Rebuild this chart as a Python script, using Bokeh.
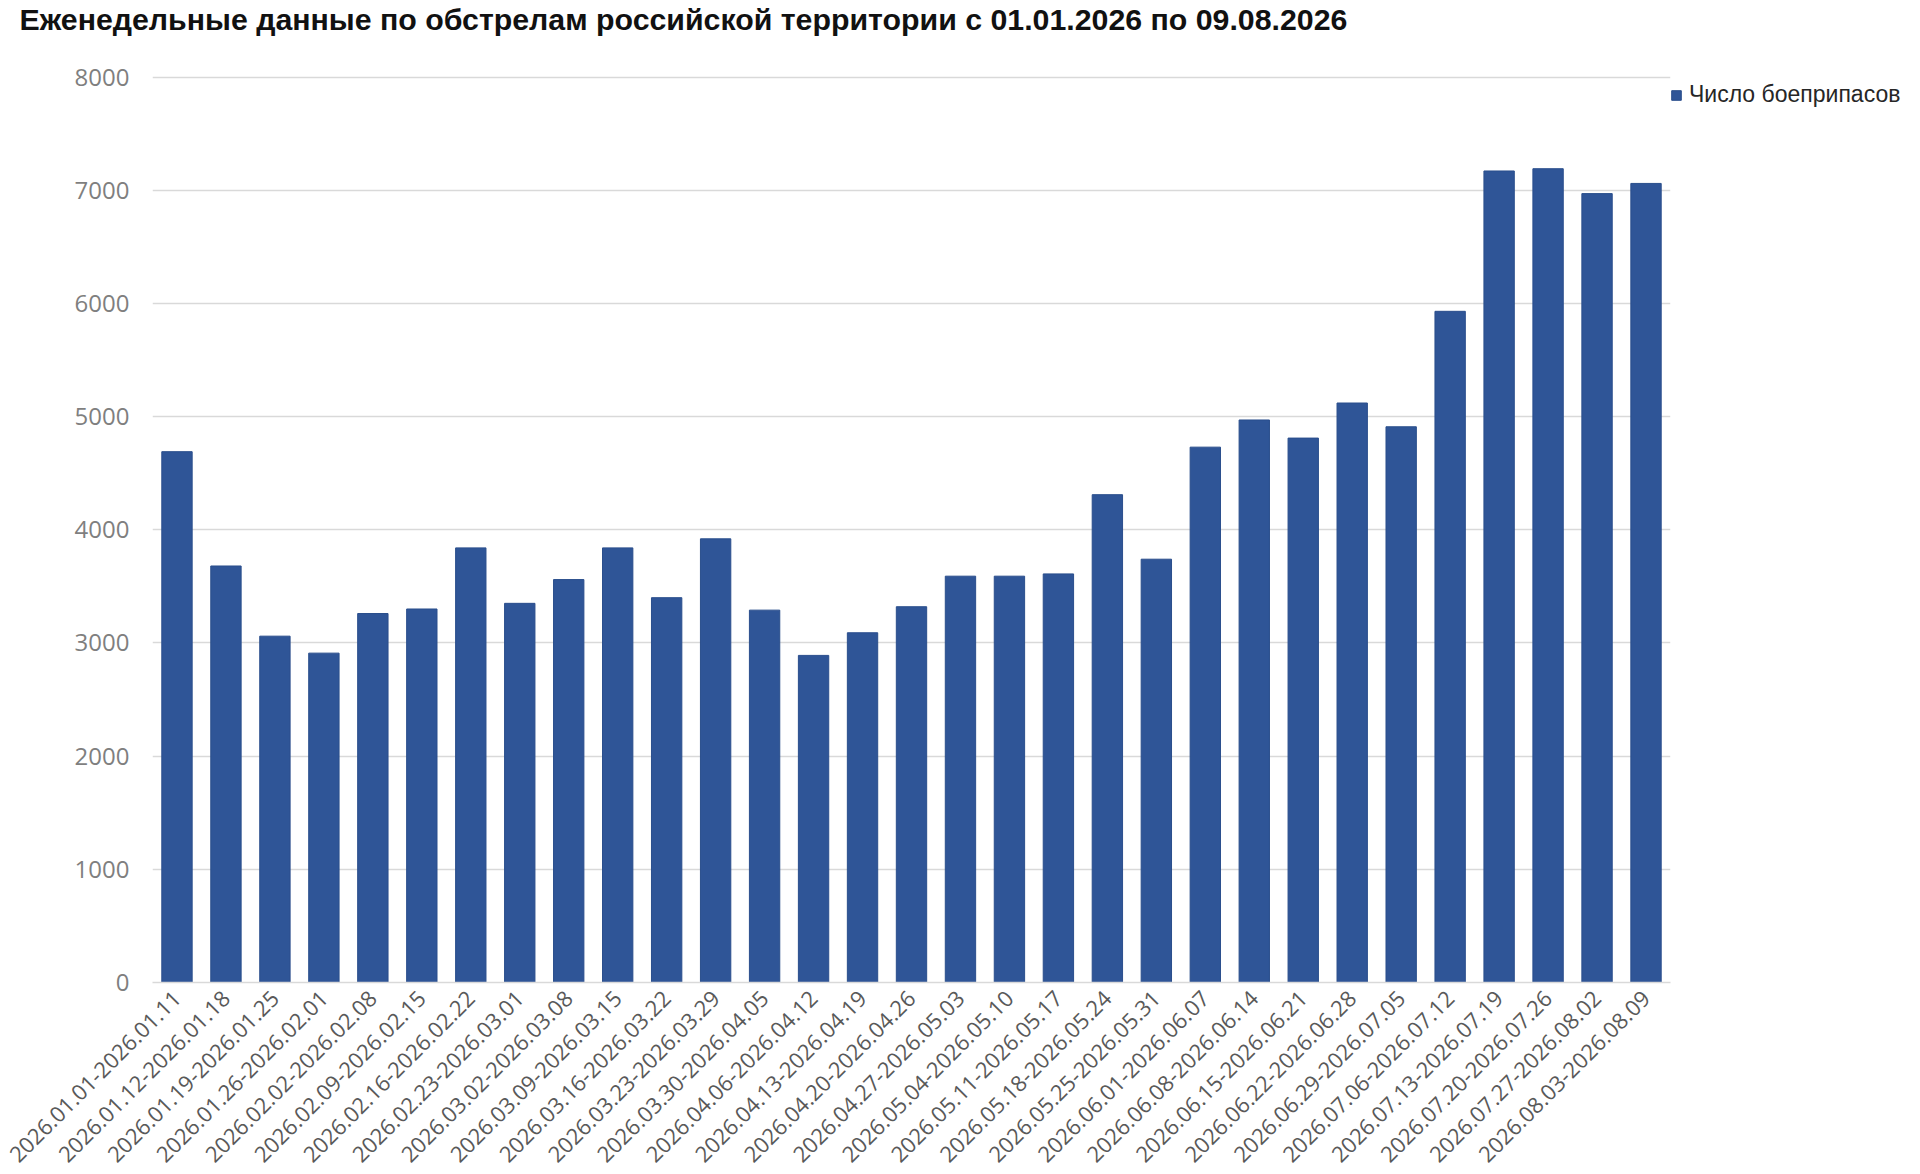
import math
from bokeh.plotting import figure
from bokeh.models import (FactorRange, Range1d, Legend, LegendItem,
                          ColumnDataSource, FixedTicker)
from bokeh.embed import file_html
from bokeh.resources import INLINE

title_text = "Еженедельные данные по обстрелам российской территории с 01.01.2026 по 09.08.2026"
series_name = "Число боеприпасов"

weeks = [
    "2026.01.01-2026.01.11", "2026.01.12-2026.01.18", "2026.01.19-2026.01.25",
    "2026.01.26-2026.02.01", "2026.02.02-2026.02.08", "2026.02.09-2026.02.15",
    "2026.02.16-2026.02.22", "2026.02.23-2026.03.01", "2026.03.02-2026.03.08",
    "2026.03.09-2026.03.15", "2026.03.16-2026.03.22", "2026.03.23-2026.03.29",
    "2026.03.30-2026.04.05", "2026.04.06-2026.04.12", "2026.04.13-2026.04.19",
    "2026.04.20-2026.04.26", "2026.04.27-2026.05.03", "2026.05.04-2026.05.10",
    "2026.05.11-2026.05.17", "2026.05.18-2026.05.24", "2026.05.25-2026.05.31",
    "2026.06.01-2026.06.07", "2026.06.08-2026.06.14", "2026.06.15-2026.06.21",
    "2026.06.22-2026.06.28", "2026.06.29-2026.07.05", "2026.07.06-2026.07.12",
    "2026.07.13-2026.07.19", "2026.07.20-2026.07.26", "2026.07.27-2026.08.02",
    "2026.08.03-2026.08.09",
]

munitions = [
    4690, 3680, 3060, 2910, 3260, 3300, 3840, 3350, 3560, 3840,
    3400, 3920, 3290, 2890, 3090, 3320, 3590, 3590, 3610, 4310,
    3740, 4730, 4970, 4810, 5120, 4910, 5930, 7170, 7190, 6970,
    7060,
]

y_ticks = [0, 1000, 2000, 3000, 4000, 5000, 6000, 7000, 8000]

src = ColumnDataSource(dict(week=weeks, count=munitions))

p = figure(frame_width=1518, height=1172,
           x_range=FactorRange(factors=weeks, range_padding=0),
           y_range=Range1d(0, 8367),
           output_backend="svg", toolbar_location=None, tools="",
           min_border_left=152, min_border_right=230, min_border_top=0,
           min_border_bottom=0)

r = p.vbar(x="week", top="count", width=0.62, source=src,
           fill_color="#2f5597", line_color="#2a4e8c", line_width=1)

p.title.text = title_text
p.title.text_font = "Liberation Sans"
p.title.text_font_size = "30.3px"
p.title.text_font_style = "bold"
p.title.text_color = "#111111"
p.title.align = "left"
p.title.offset = -133
p.title.standoff = 0

p.outline_line_color = None
p.background_fill_color = "white"
p.border_fill_color = "white"

p.xgrid.grid_line_color = None
p.ygrid.grid_line_color = "#d9d9d9"
p.ygrid.grid_line_width = 1.5

p.yaxis.ticker = FixedTicker(ticks=y_ticks)
p.yaxis.axis_line_color = None
p.yaxis.major_tick_line_color = None
p.yaxis.minor_tick_line_color = None
p.yaxis.major_label_text_font = "Open Sans"
p.yaxis.major_label_text_font_size = "24px"
p.yaxis.major_label_text_color = "#7f7f7f"
p.yaxis.major_label_standoff = 17

p.xaxis.axis_line_color = "#d9d9d9"
p.xaxis.axis_line_width = 1.5
p.xaxis.major_tick_line_color = None
p.xaxis.minor_tick_line_color = None
p.xaxis.major_label_orientation = math.pi / 4
p.xaxis.major_label_text_font = "Open Sans"
p.xaxis.major_label_text_font_size = "22px"
p.xaxis.major_label_text_color = "#595959"
p.xaxis.major_label_standoff = 6

legend = Legend(items=[LegendItem(label=series_name, renderers=[r])],
                location=(0, 874), orientation="vertical",
                glyph_width=12, glyph_height=12, label_standoff=7,
                padding=0, margin=0, border_line_color=None,
                background_fill_alpha=0,
                label_text_font="Liberation Sans",
                label_text_font_size="23px", label_text_color="#262626")
p.add_layout(legend, "right")

open("out.html", "w").write(file_html(p, INLINE))
